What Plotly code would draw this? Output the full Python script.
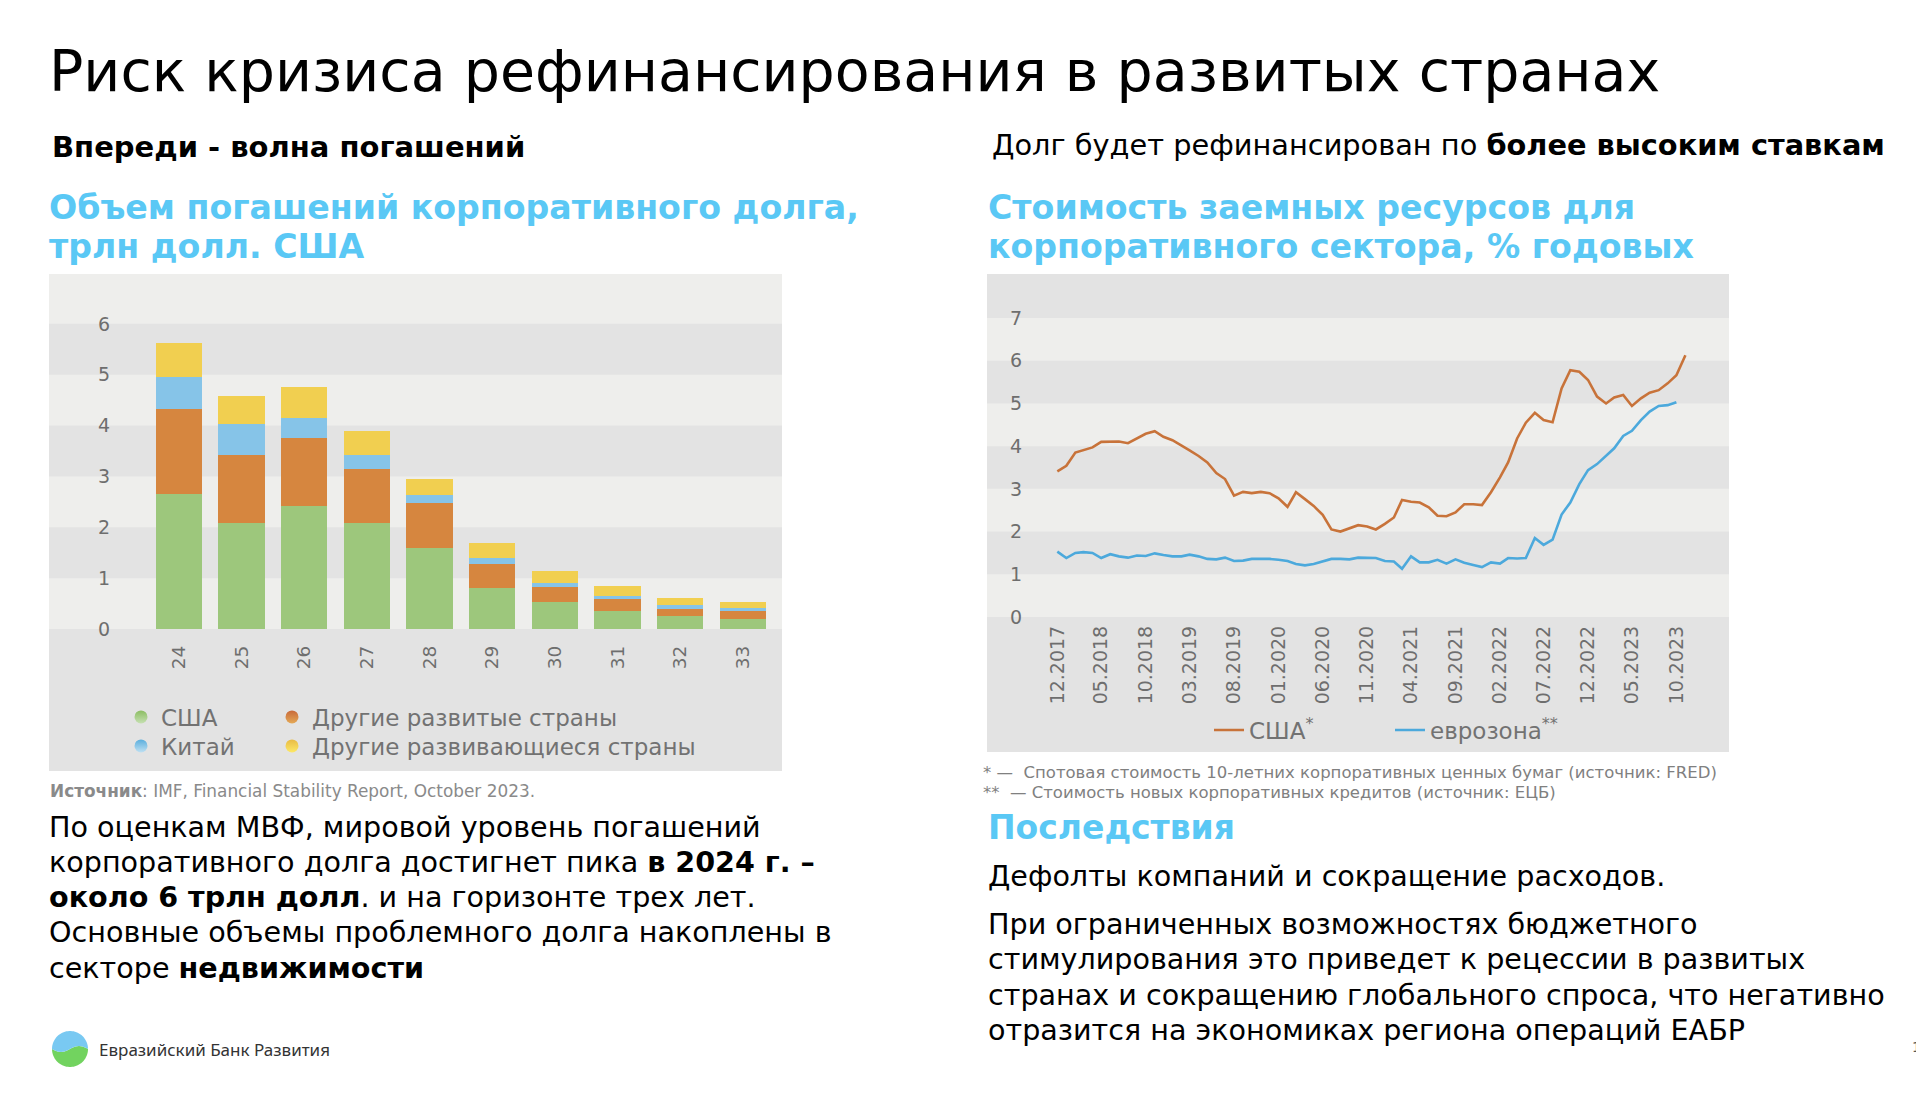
import numpy as np
import pandas as pd
import plotly.graph_objects as go

W, H = 1916, 1098


def px(x):
    return x / W


def py(y):
    return 1 - y / H


# ---------------- data: left chart (trillion USD) ----------------
years = ['24', '25', '26', '27', '28', '29', '30', '31', '32', '33']
usa = [2.65, 2.08, 2.42, 2.09, 1.59, 0.80, 0.53, 0.35, 0.25, 0.20]
other_dev = [1.67, 1.34, 1.33, 1.05, 0.89, 0.48, 0.29, 0.24, 0.14, 0.16]
china = [0.63, 0.62, 0.40, 0.28, 0.15, 0.11, 0.08, 0.06, 0.08, 0.06]
other_em = [0.67, 0.54, 0.60, 0.47, 0.32, 0.30, 0.24, 0.19, 0.15, 0.12]

# ---------------- data: right chart (% per year, monthly from 12.2017) ----------------
usa_rate = [3.41, 3.54, 3.85, 3.90, 3.97, 4.10, 4.11, 4.11, 4.07, 4.18, 4.29, 4.35,
            4.22, 4.14, 4.02, 3.90, 3.77, 3.62, 3.37, 3.23, 2.84, 2.93, 2.90, 2.93,
            2.90, 2.78, 2.58, 2.92, 2.76, 2.60, 2.39, 2.05, 2.00, 2.08, 2.15, 2.12,
            2.05, 2.18, 2.33, 2.74, 2.70, 2.68, 2.57, 2.37, 2.36, 2.45, 2.64, 2.64,
            2.62, 2.92, 3.27, 3.62, 4.18, 4.55, 4.78, 4.61, 4.56, 5.35, 5.78, 5.74,
            5.55, 5.16, 5.00, 5.14, 5.20, 4.94, 5.12, 5.25, 5.31, 5.47, 5.66, 6.13]
euro_rate = [1.53, 1.38, 1.50, 1.52, 1.50, 1.38, 1.47, 1.42, 1.39, 1.44, 1.43, 1.49,
             1.45, 1.42, 1.42, 1.46, 1.42, 1.36, 1.35, 1.39, 1.31, 1.32, 1.36, 1.36,
             1.36, 1.34, 1.31, 1.24, 1.21, 1.24, 1.30, 1.36, 1.36, 1.35, 1.39, 1.38,
             1.38, 1.31, 1.30, 1.13, 1.42, 1.28, 1.28, 1.34, 1.25, 1.35, 1.27, 1.22,
             1.17, 1.28, 1.25, 1.38, 1.37, 1.38, 1.85, 1.69, 1.81, 2.40, 2.68, 3.11,
             3.44, 3.58, 3.78, 3.95, 4.24, 4.36, 4.61, 4.81, 4.94, 4.96, 5.03]
months = pd.date_range('2017-12-01', periods=len(usa_rate), freq='MS')
tick_months = months[:71:5]

# ---------------- styles ----------------
LIGHT = '#eeeeec'
DARK = '#e3e3e3'
TICK_COLOR = '#6e6e6e'
CHART_FONT = 'DejaVu Sans'
TEXT_FONT = 'DejaVu Sans'
BLUE_HEAD = '#5ac8f5'

fig = go.Figure()

bar_specs = [
    ('США', usa, '#9dc77c', '#8bbd62', '#c6e0b2', 'legend'),
    ('Другие развитые страны', other_dev, '#d6863f', '#c8693a', '#e4a956', 'legend2'),
    ('Китай', china, '#86c4e8', '#5aaedd', '#bfe0f2', 'legend3'),
    ('Другие развивающиеся страны', other_em, '#f1cf50', '#e8bb45', '#fde866', 'legend4'),
]
for name, vals, col, top, bot, lg in bar_specs:
    fig.add_trace(go.Bar(x=years, y=vals, name=name, marker=dict(color=col, line=dict(width=0)),
                         showlegend=False, xaxis='x', yaxis='y', hoverinfo='skip'))
for name, vals, col, top, bot, lg in bar_specs:
    fig.add_trace(go.Scatter(x=[None], y=[None], mode='markers', name=name, legend=lg,
                             marker=dict(size=13, color=top, line=dict(width=0),
                                         gradient=dict(type='vertical', color=bot)),
                             xaxis='x', yaxis='y'))

fig.add_trace(go.Scatter(x=months, y=usa_rate, mode='lines', name='США<sup>*</sup>',
                         line=dict(color='#c8733a', width=2.6), legend='legend5',
                         xaxis='x2', yaxis='y2'))
fig.add_trace(go.Scatter(x=months[:len(euro_rate)], y=euro_rate, mode='lines',
                         name='еврозона<sup>**</sup>',
                         line=dict(color='#4ca9dc', width=2.6), legend='legend6',
                         xaxis='x2', yaxis='y2'))

# background bands
shapes = []
for a, b in [(-5, 0), (1, 2), (3, 4), (5, 6)]:
    shapes.append(dict(type='rect', xref='x', yref='y', x0=-5, x1=15, y0=a, y1=b,
                       fillcolor=DARK, line=dict(width=0), layer='below'))
for a, b in [(-5, 0), (1, 2), (3, 4), (5, 6), (7, 12)]:
    shapes.append(dict(type='rect', xref='x2', yref='y2', x0='2015-01-01', x1='2026-01-01',
                       y0=a, y1=b, fillcolor=DARK, line=dict(width=0), layer='below'))

# logo (two halves of a circle)
cx, cy, r = 70, 1049, 18
t_top = np.linspace(0, np.pi, 40)
t_bot = np.linspace(np.pi, 2 * np.pi, 40)
wave = [(cx - r + k * 2 * r / 20, cy + 3 * np.sin(np.pi * k / 10)) for k in range(21)]


def poly(ts, tail):
    pts = [(cx + r * np.cos(t), cy - r * np.sin(t)) for t in ts] + tail
    return 'M ' + ' L '.join(f'{px(x):.5f},{py(y):.5f}' for x, y in pts) + ' Z'


shapes.append(dict(type='path', xref='paper', yref='paper', path=poly(t_bot, wave),
                   fillcolor='#72d35f', line=dict(width=0)))
shapes.append(dict(type='path', xref='paper', yref='paper', path=poly(t_top, wave),
                   fillcolor='#79c9f2', line=dict(width=0)))

ann = []


def text(x, y, s, size, color='black', family=TEXT_FONT):
    ann.append(dict(x=px(x), y=py(y), xref='paper', yref='paper', text=s, showarrow=False,
                    xanchor='left', yanchor='middle', align='left',
                    font=dict(family=family, size=size, color=color)))


text(47, 71, 'Риск кризиса рефинансирования в развитых странах', 57)
text(50, 147, '<b>Впереди - волна погашений</b>', 29)
text(990, 145, 'Долг будет рефинансирован по <b>более высоким ставкам</b>', 28.8)
text(47, 207, '<b>Объем погашений корпоративного долга,</b>', 33.2, BLUE_HEAD)
text(47, 246, '<b>трлн долл. США</b>', 33.2, BLUE_HEAD)
text(986, 207, '<b>Стоимость заемных ресурсов для</b>', 33.2, BLUE_HEAD)
text(986, 246, '<b>корпоративного сектора, % годовых</b>', 33.2, BLUE_HEAD)
text(48, 791, '<b>Источник</b>: IMF, Financial Stability Report, October 2023.', 16.9, '#8a8a8a')

left_par = ['По оценкам МВФ, мировой уровень погашений',
            'корпоративного долга достигнет пика <b>в 2024 г. –</b>',
            '<b>около 6 трлн долл</b>. и на горизонте трех лет.',
            'Основные объемы проблемного долга накоплены в',
            'секторе <b>недвижимости</b>']
for line, yy in zip(left_par, [827, 862, 897, 932, 968]):
    text(47, yy, line, 28.6)

text(981, 772, '*\u00a0—\u00a0\u00a0Спотовая стоимость 10-летних корпоративных ценных бумаг (источник: FRED)',
     16.5, '#808080')
text(981, 792, '**\u00a0\u00a0— Стоимость новых корпоративных кредитов (источник: ЕЦБ)', 16.5, '#808080')
text(986, 827, '<b>Последствия</b>', 33, BLUE_HEAD)
text(986, 876, 'Дефолты компаний и сокращение расходов.', 28.6)
right_par = ['При ограниченных возможностях бюджетного',
             'стимулирования это приведет к рецессии в развитых',
             'странах и сокращению глобального спроса, что негативно',
             'отразится на экономиках региона операций ЕАБР']
for line, yy in zip(right_par, [924, 959, 995, 1030]):
    text(986, yy, line, 28.6)
text(97, 1049, 'Евразийский Банк Развития', 17, '#333333', 'Noto Sans')
text(1910, 1047, '1', 14, '#555555')

legfont = dict(family=CHART_FONT, size=23, color='#727272')
common_leg = dict(xanchor='left', yanchor='middle', bgcolor='rgba(0,0,0,0)', font=legfont,
                  orientation='v', traceorder='normal', borderwidth=0)

fig.update_layout(
    width=W, height=H, margin=dict(l=0, r=0, t=0, b=0),
    paper_bgcolor='white', plot_bgcolor=LIGHT,
    barmode='stack', bargap=0.26,
    showlegend=True,
    xaxis=dict(domain=[px(49), px(782)], type='category', range=[-2.073, 9.623],
               anchor='free', position=py(629), showgrid=False, zeroline=False,
               showline=False, ticks='', tickangle=-90,
               tickfont=dict(family=CHART_FONT, size=18.5, color=TICK_COLOR),
               ticklabelstandoff=12, fixedrange=True),
    yaxis=dict(domain=[py(771), py(274)], range=[-2.79, 6.98], anchor='free',
               position=px(110), tickvals=list(range(7)), showgrid=False, zeroline=False,
               showline=False, ticks='', tickfont=dict(family=CHART_FONT, size=19, color=TICK_COLOR),
               fixedrange=True),
    xaxis2=dict(domain=[px(987), px(1729)], type='date', range=['2017-04-03', '2024-03-30'],
                anchor='free', position=py(617), tickvals=list(tick_months),
                tickformat='%m.%Y', tickangle=-90, showgrid=False, zeroline=False,
                showline=False, ticks='',
                tickfont=dict(family=CHART_FONT, size=19, color=TICK_COLOR),
                ticklabelstandoff=4, fixedrange=True),
    yaxis2=dict(domain=[py(752), py(274)], range=[-3.16, 8.03], anchor='free',
                position=px(1022), tickvals=list(range(8)), showgrid=False, zeroline=False,
                showline=False, ticks='', tickfont=dict(family=CHART_FONT, size=19, color=TICK_COLOR),
                fixedrange=True),
    legend=dict(x=px(121), y=py(717), **common_leg),
    legend2=dict(x=px(272), y=py(717), **common_leg),
    legend3=dict(x=px(121), y=py(746), **common_leg),
    legend4=dict(x=px(272), y=py(746), **common_leg),
    legend5=dict(x=px(1209), y=py(730), **common_leg),
    legend6=dict(x=px(1390), y=py(730), **common_leg),
    shapes=shapes,
    annotations=ann,
)

fig.write_html("out.html", config={'displayModeBar': False},
               post_script="document.body.style.margin='0px';document.body.style.overflow='hidden';")
